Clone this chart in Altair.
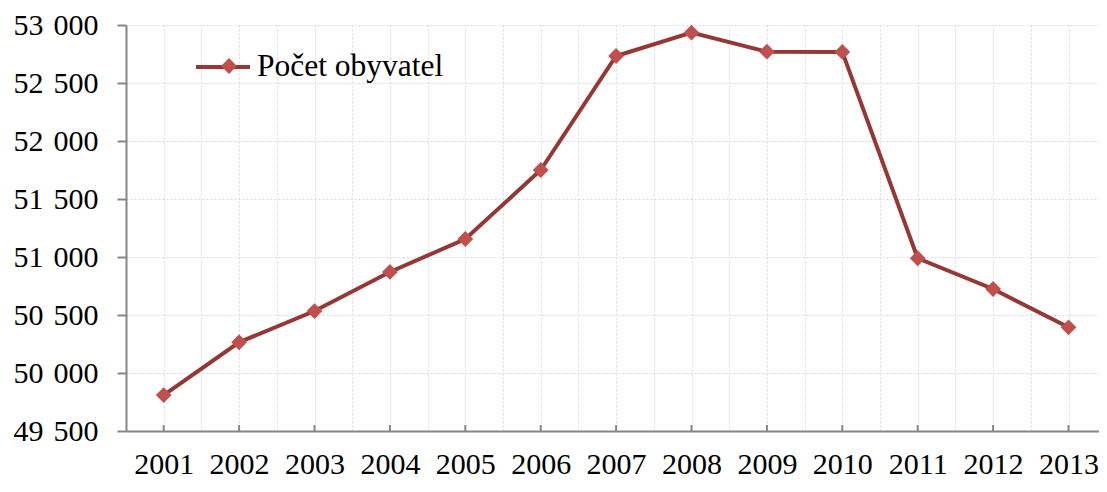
import altair as alt
import pandas as pd

years = [2001, 2002, 2003, 2004, 2005, 2006, 2007, 2008, 2009, 2010, 2011, 2012, 2013]
population = [49810, 50265, 50534, 50871, 51155, 51750, 52733, 52934, 52770, 52768, 50989, 50724, 50394]
series_name = "Počet obyvatel"
y_ticks = [49500, 50000, 50500, 51000, 51500, 52000, 52500, 53000]
x_grid = [2000.5, 2001, 2001.5, 2002, 2002.5, 2003, 2003.5, 2004, 2004.5, 2005, 2005.5,
          2006, 2006.5, 2007, 2007.5, 2008, 2008.5, 2009, 2009.5, 2010, 2010.5, 2011,
          2011.5, 2012, 2012.5, 2013]

LINE = "#953735"
MARK = "#C0504D"
AXIS = "#868686"
FONT = "Liberation Serif"
FS = 30
STEP = 75.4
W, H = 973, 406
X_MAX = 2000.5 + W / STEP

df = pd.DataFrame({"year": years, "population": population,
                   "series": series_name, "marker": series_name})

x = alt.X(
    "year:Q",
    scale=alt.Scale(domain=[2000.5, X_MAX], nice=False, zero=False),
    axis=alt.Axis(
        title=None, values=x_grid, ticks=False, grid=True,
        labelExpr="datum.value % 1 == 0 ? '' + datum.value : ''",
        labelPadding=18, labelFlush=False, labelOverlap=False,
    ),
)
y = alt.Y(
    "population:Q",
    scale=alt.Scale(domain=[49500, 53000], nice=False, zero=False),
    axis=alt.Axis(
        title=None, values=y_ticks, ticks=True, tickSize=9, tickColor=AXIS, tickWidth=2,
        labelExpr="replace(format(datum.value, ',d'), ',', '\u2004')",
        labelPadding=19,
    ),
)

line = alt.Chart(df).mark_line(strokeWidth=4).encode(
    x=x, y=y,
    stroke=alt.Stroke(
        "series:N",
        scale=alt.Scale(range=[LINE]),
        legend=alt.Legend(
            title=None, orient="none", legendX=68, legendY=13, padding=0,
            symbolType="M-1,0H1", symbolSize=2916, symbolStrokeWidth=4,
            symbolStrokeColor=LINE,
            labelFont=FONT, labelFontSize=31.5, labelColor="black", labelOffset=5,
            labelLimit=0, zindex=1,
        ),
    ),
)

points = alt.Chart(df).mark_point(
    shape="diamond", filled=True, size=250, opacity=1, strokeWidth=0
).encode(
    x=x, y=y,
    fill=alt.Fill(
        "marker:N",
        scale=alt.Scale(range=[MARK]),
        legend=alt.Legend(
            title=None, orient="none", legendX=88, legendY=26, padding=0,
            symbolType="diamond", symbolSize=250, symbolStrokeWidth=0,
            symbolFillColor=MARK,
            labelFontSize=FS, labelExpr="''", labelOffset=0,
            zindex=2,
        ),
    ),
)

ticks = alt.Chart(df).mark_rule(color=AXIS, strokeWidth=2).encode(
    x=x, y=alt.value(H), y2=alt.value(H - 6)
)

chart = alt.layer(ticks, line, points).properties(
    width=W, height=H,
    autosize=alt.AutoSizeParams(type="none"),
    padding={"left": 118, "top": 17, "right": 0, "bottom": 49},
).configure_axis(
    domainColor=AXIS, domainWidth=2,
    gridColor="#D9D9D9", gridDash=[2, 2], gridWidth=1,
    labelFont=FONT, labelFontSize=FS, labelColor="black",
).configure_view(stroke=None)

chart.save("out.html", embed_options={"renderer": "svg", "actions": False})
